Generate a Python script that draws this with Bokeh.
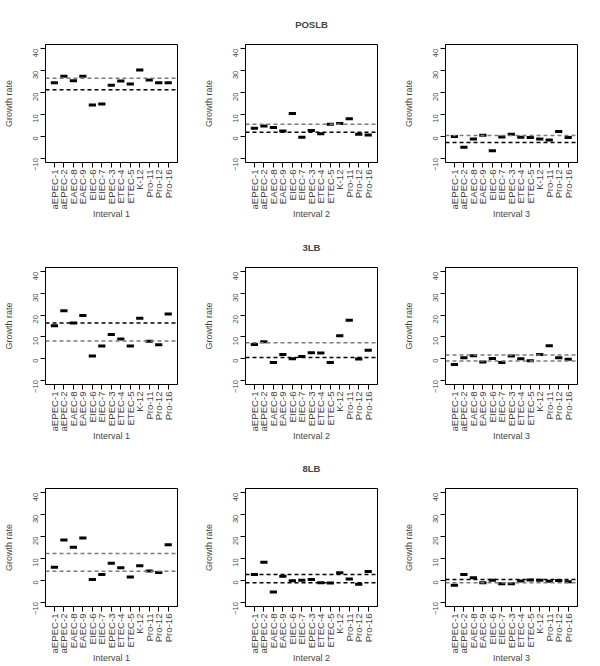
import math
from bokeh.plotting import figure
from bokeh.layouts import gridplot
from bokeh.models import Range1d, FixedTicker, Span
from bokeh.embed import file_html
from bokeh.resources import INLINE

# ---------------- data ----------------
strains = ["aEPEC-1", "aEPEC-2", "EAEC-8", "EAEC-9", "EIEC-6", "EIEC-7", "EPEC-3",
           "ETEC-4", "ETEC-5", "K-12", "Pro-11", "Pro-12", "Pro-16"]
media = ["POSLB", "3LB", "8LB"]
intervals = ["Interval 1", "Interval 2", "Interval 3"]
y_ticks = [-10, 0, 10, 20, 30, 40]

poslb_int1 = [24.5, 27.5, 25.4, 27.5, 14.3, 14.8, 23.3, 25.3, 23.9, 30.3, 25.8, 24.5, 24.5]
poslb_int2 = [3.7, 4.7, 4.0, 2.4, 10.4, -0.4, 2.7, 1.2, 5.5, 5.9, 8.0, 0.9, 0.6]
poslb_int3 = [-0.1, -5.0, -1.2, 0.5, -6.6, -0.3, 0.9, -0.4, -0.6, -1.2, -1.7, 2.2, -0.6]

lb3_int1 = [15.1, 22.0, 16.4, 19.9, 1.2, 5.8, 11.1, 9.0, 5.8, 18.6, 8.0, 6.3, 20.5]
lb3_int2 = [6.5, 7.7, -1.9, 1.9, -0.1, 0.9, 2.7, 2.5, -1.8, 10.5, 17.7, -0.2, 3.8]
lb3_int3 = [-2.8, 0.4, 1.3, -1.6, 0.0, -1.9, 1.2, -0.1, -1.0, 1.9, 5.9, 0.3, -0.4]

lb8_int1 = [6.0, 18.4, 15.1, 19.4, 0.4, 2.6, 7.8, 5.7, 1.5, 6.6, 4.3, 3.6, 16.3]
lb8_int2 = [2.7, 8.3, -5.4, 1.8, -0.2, 0.0, 0.4, -1.1, -1.3, 3.4, 0.6, -1.8, 4.0]
lb8_int3 = [-2.3, 2.7, 1.1, -1.1, 0.0, -1.6, -1.6, -0.3, 0.1, 0.0, -0.4, -0.1, -0.7]

# reference (dashed) levels per panel: upper and lower
upper_levels = [[26.6, 5.5, 0.3], [16.4, 7.3, 1.6], [12.2, 2.7, 0.4]]
lower_levels = [[21.3, 1.8, -2.8], [8.1, 0.5, -1.2], [4.1, -1.1, -1.1]]

values = [[poslb_int1, poslb_int2, poslb_int3],
          [lb3_int1, lb3_int2, lb3_int3],
          [lb8_int1, lb8_int2, lb8_int3]]

# ---------------- styling ----------------
GRAY = "#7a7a7a"
BLACK = "#000000"
upper_colors = [[GRAY, GRAY, GRAY], [BLACK, GRAY, GRAY], [GRAY, BLACK, BLACK]]
lower_colors = [[BLACK, BLACK, BLACK], [GRAY, BLACK, GRAY], [GRAY, BLACK, GRAY]]

FONT = "Liberation Sans"
col_w = [200, 200, 200]
col_left = [44, 44, 44]
frame_w = 133
row_h = [222, 222, 222]
row_top = [44, 45, 44]
frame_h = 122

xs = list(range(1, len(strains) + 1))

grid = []
for r in range(3):
    row_figs = []
    for c in range(3):
        w = col_w[c]
        h = row_h[r]
        p = figure(width=w, height=h, output_backend="svg", toolbar_location=None,
                   x_range=Range1d(0.06, 13.98), y_range=Range1d(-12, 42),
                   min_border_left=col_left[c], min_border_right=w - col_left[c] - frame_w,
                   min_border_top=row_top[r], min_border_bottom=h - row_top[r] - frame_h,
                   title=media[r] if c == 1 else None)
        if c == 1:
            p.title.align = "center"
            p.title.text_font = FONT
            p.title.text_font_size = "9.5px"
            p.title.text_font_style = "bold"
            p.title.standoff = 30
        p.xgrid.visible = False
        p.ygrid.visible = False
        p.background_fill_color = "white"
        p.border_fill_color = "white"
        p.outline_line_color = "black"
        p.outline_line_width = 1
        p.outline_line_alpha = 1

        # x axis
        xa = p.xaxis[0]
        xa.ticker = FixedTicker(ticks=xs)
        xa.major_label_overrides = {i: s for i, s in zip(xs, strains)}
        xa.major_label_orientation = math.pi / 2
        xa.major_label_text_font = FONT
        xa.major_label_text_font_size = "9.6px"
        xa.major_label_standoff = 2
        xa.major_tick_out = 5
        xa.major_tick_in = 0
        xa.minor_tick_out = 0
        xa.minor_tick_in = 0
        xa.axis_label = intervals[c]
        xa.axis_label_text_font = FONT
        xa.axis_label_text_font_size = "9px"
        xa.axis_label_text_font_style = "normal"
        xa.axis_label_standoff = -3
        xa.axis_line_color = "black"

        # y axis
        ya = p.yaxis[0]
        ya.ticker = FixedTicker(ticks=y_ticks)
        ya.major_label_orientation = math.pi / 2
        ya.major_label_text_font = FONT
        ya.major_label_text_font_size = "7.5px"
        ya.major_label_standoff = 5
        ya.major_tick_out = 5
        ya.major_tick_in = 0
        ya.minor_tick_out = 0
        ya.minor_tick_in = 0
        ya.axis_label = "Growth rate"
        ya.axis_label_text_font = FONT
        ya.axis_label_text_font_size = "9px"
        ya.axis_label_text_font_style = "normal"
        ya.axis_label_standoff = 14
        ya.axis_line_color = "black"

        # dashed reference levels
        p.add_layout(Span(location=upper_levels[r][c], dimension="width",
                          line_color=upper_colors[r][c], line_dash="4 3", line_width=1.5))
        p.add_layout(Span(location=lower_levels[r][c], dimension="width",
                          line_color=lower_colors[r][c], line_dash="4 3", line_width=1.5))

        # strain bars
        p.rect(x=xs, y=values[r][c], width=0.76, height=3, height_units="screen",
               fill_color="black", line_color=None)
        row_figs.append(p)
    grid.append(row_figs)

layout = gridplot(grid, toolbar_location=None)
open("out.html", "w").write(file_html(layout, INLINE))
